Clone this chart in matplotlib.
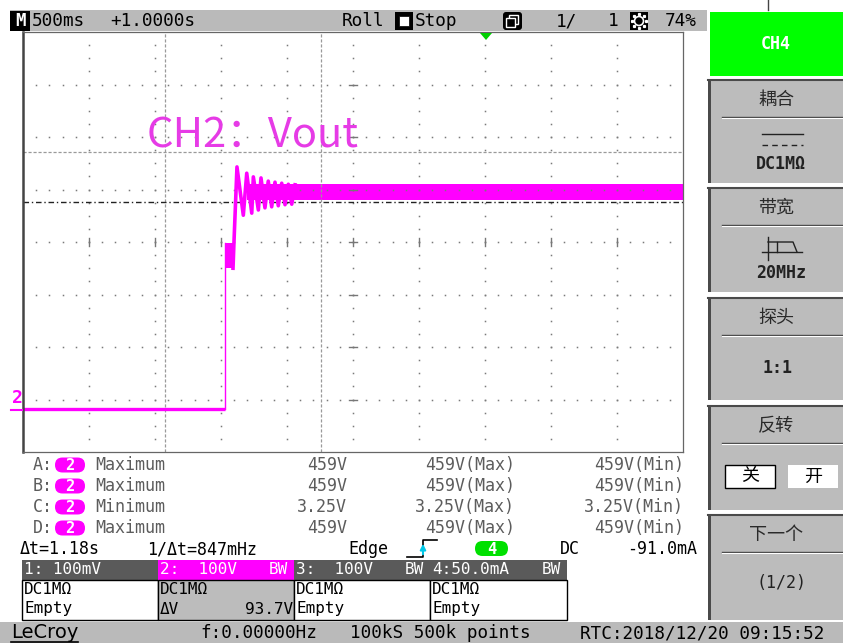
import numpy as np
import matplotlib.pyplot as plt
from matplotlib.patches import Rectangle, FancyBboxPatch, Polygon, Circle

# ---- CH2 trace: time in s (500 ms/div, 10 div), voltage in V (100 V/div, ground on div -3)
base_t = [0.0, 1.530]
base_v = [-18, -18]
step_t = [1.530, 1.530]
step_v = [-18, 298]
burst_t = [1.530, 1.591]
burst_hi = [298, 298]
burst_lo = [250, 250]
ring_t = [1.591, 1.598, 1.621, 1.669, 1.695, 1.733, 1.745, 1.783, 1.803, 1.833,
          1.858, 1.884, 1.909, 1.934, 1.960, 1.985, 2.010, 2.036, 2.061]
ring_v = [250, 298, 443, 351, 431, 355, 424, 361, 422, 365,
          416, 367, 414, 369, 412, 371, 410, 372, 409]
band_t = [1.70, 5.0]
band_hi = [410, 410]
band_lo = [380, 380]

# cursors
cur_t = [1.076, 2.256]
cur_v = [471, 377]

# ---- measurement / status text
meas_id = ['A:', 'B:', 'C:', 'D:']
meas_kind = ['Maximum', 'Maximum', 'Minimum', 'Maximum']
meas_val = ['459V', '459V', '3.25V', '459V']
meas_max = ['459V(Max)', '459V(Max)', '3.25V(Max)', '459V(Max)']
meas_min = ['459V(Min)', '459V(Min)', '3.25V(Min)', '459V(Min)']

ch_head = ['1: 100mV', '2:  100V', '3:  100V', '4:50.0mA']
ch_bw = ['', 'BW', 'BW', 'BW']
ch_row1 = ['DC1MΩ', 'DC1MΩ', 'DC1MΩ', 'DC1MΩ']
ch_row2 = ['Empty', 'ΔV', 'Empty', 'Empty']

menu_titles = ['耦合', '带宽', '探头', '反转', '下一个']

MAG = '#ff00ff'
GRAY = '#bcbcbc'
MONO = 'DejaVu Sans Mono'
CJK = ['Noto Sans CJK SC', 'DejaVu Sans']

fig = plt.figure(figsize=(8.43, 6.43), dpi=100)
fig.patch.set_facecolor('white')

bg = fig.add_axes([0, 0, 1, 1])
bg.set_xlim(0, 843)
bg.set_ylim(643, 0)
bg.axis('off')

# status bar
bg.add_patch(Rectangle((10, 10), 697, 21, color='#bababa', lw=0))
bg.add_patch(Rectangle((10, 11), 20, 20, color='black', lw=0))
bg.text(20, 21.5, 'M', color='white', fontsize=12.5, family=MONO, weight='bold', ha='center', va='center')
sb = dict(fontsize=12.8, family=MONO, va='center', color='black')
bg.text(32, 21, '500ms', **sb)
bg.text(110, 21, '+1.0000s', **sb)
bg.text(342, 21, 'Roll', **sb)
bg.add_patch(Rectangle((395, 12), 18, 18, color='black', lw=0))
bg.add_patch(Rectangle((399, 16), 10, 10, facecolor='white', edgecolor='black', lw=0.5))
bg.text(415, 21, 'Stop', **sb)
bg.add_patch(FancyBboxPatch((503, 12), 19, 18, boxstyle='round,pad=0,rounding_size=3', color='black', lw=0))
bg.add_patch(Rectangle((509, 15), 9, 9, facecolor='none', edgecolor='white', lw=1))
bg.add_patch(Rectangle((506, 18), 9, 9, facecolor='black', edgecolor='white', lw=1))
bg.text(556, 21, '1/', **sb)
bg.text(618, 21, '1', ha='right', fontsize=12.8, family=MONO, va='center')
bg.add_patch(Rectangle((630, 12), 18, 18, color='black', lw=0))
bg.add_patch(Circle((639, 21), 4.5, facecolor='none', edgecolor='white', lw=1.2))
for a in np.arange(8) * np.pi / 4:
    bg.plot(639 + 7 * np.cos(a), 21 + 7 * np.sin(a), 's', ms=1.3, color='white')
bg.text(665, 21, '74%', **sb)
bg.plot([768, 768], [0, 10], color='#444444', lw=1)

# measurement rows
mk = dict(fontsize=12, family=MONO, va='center', color='#5c5c5c')
for i in range(4):
    y = 465 + i * 21
    bg.text(33, y, meas_id[i], **mk)
    bg.add_patch(FancyBboxPatch((55, y - 7.5), 30, 15, boxstyle='round,pad=0,rounding_size=7.5',
                                color=MAG, lw=0))
    bg.text(70, y + 0.5, '2', color='white', fontsize=11, family=MONO, weight='bold', ha='center', va='center')
    bg.text(95, y, meas_kind[i], **mk)
    bg.text(347, y, meas_val[i], ha='right', **mk)
    bg.text(515, y, meas_max[i], ha='right', **mk)
    bg.text(684, y, meas_min[i], ha='right', **mk)

dk = dict(fontsize=12, family=MONO, va='center', color='black')
bg.text(20, 549, 'Δt=1.18s', **dk)
bg.text(147, 549, '1/Δt=847mHz', **dk)
bg.text(348, 549, 'Edge', **dk)
bg.plot([407, 423, 423, 437], [557, 557, 540, 540], color='black', lw=1.2)
bg.annotate('', xy=(423, 541), xytext=(423, 557),
            arrowprops=dict(arrowstyle='-|>', color='#00c8e8', lw=1.5, mutation_scale=8))
bg.add_patch(FancyBboxPatch((475, 541), 33, 15, boxstyle='round,pad=0,rounding_size=7.5',
                            color='#00e000', lw=0))
bg.text(491.5, 549, '4', color='white', fontsize=11, family=MONO, weight='bold', ha='center', va='center')
bg.text(560, 549, 'DC', **dk)
bg.text(697, 549, '-91.0mA', ha='right', **dk)

# channel table
cells = [22, 158, 294, 430, 567]
tk = dict(fontsize=11.5, family=MONO, va='center')
for i in range(4):
    x0, x1 = cells[i], cells[i + 1]
    bg.add_patch(Rectangle((x0, 560), x1 - x0, 20, color=MAG if i == 1 else '#5a5a5a', lw=0))
    bg.add_patch(Rectangle((x0, 580), x1 - x0, 40, facecolor=GRAY if i == 1 else 'white',
                           edgecolor='black', lw=1))
    bg.text(x0 + 2, 570, ch_head[i], color='white', **tk)
    bg.text(x1 - 6, 570, ch_bw[i], color='white', ha='right', **tk)
    bg.text(x0 + 2, 590, ch_row1[i], color='black', **tk)
    bg.text(x0 + 2, 609, ch_row2[i], color='black', **tk)
bg.text(cells[2] - 1, 609, '93.7V', color='black', ha='right', **tk)

# bottom bar
bg.add_patch(Rectangle((0, 622), 843, 21, color='#bababa', lw=0))
bg.text(11, 633, 'LeCroy', fontsize=14, family='DejaVu Sans', va='center', color='black')
bg.plot([11, 78], [642, 642], color='black', lw=1.2)
bk = dict(fontsize=12.7, family=MONO, va='center', color='black')
bg.text(200, 633, 'f:0.00000Hz', **bk)
bg.text(350, 633, '100kS 500k points', **bk)
bg.text(580, 633, 'RTC:2018/12/20 09:15:52', **bk)

# right softkey menu
bg.add_patch(Rectangle((710, 12), 133, 64, color='#00ff00', lw=0))
bg.text(776, 44, 'CH4', color='white', fontsize=12, family=MONO, weight='bold', ha='center', va='center')
panels = [(79, 183), (187, 292), (297, 400), (405, 510), (514, 620)]
for (t0, t1), title in zip(panels, menu_titles):
    bg.add_patch(Rectangle((710, t0), 133, t1 - t0, color=GRAY, lw=0))
    bg.add_patch(Rectangle((708, t0), 3, t1 - t0, color='#4a4a4a', lw=0))
    bg.plot([708, 843], [t0 + 1, t0 + 1], color='#4a4a4a', lw=1.5)
    bg.plot([722, 843], [t0 + 38, t0 + 38], color='#444444', lw=1)
    bg.plot([722, 843], [t0 + 39.3, t0 + 39.3], color='white', lw=0.8)
    bg.text(776, t0 + 21, title, fontsize=13, family=CJK, ha='center', va='center', color='#2a2a2a')

pb = dict(fontsize=12, family=MONO, weight='bold', ha='center', va='center', color='#222222')
bg.plot([762, 803], [134, 134], color='#222222', lw=1)
bg.plot([762, 803], [145, 145], color='#222222', lw=1, linestyle=(0, (4, 3)))
bg.text(781, 164, 'DC1MΩ', **pb)
bg.plot([762, 802], [252, 252], color='#222222', lw=1)
bg.plot([768, 768], [237, 260], color='#222222', lw=1)
bg.plot([768, 793, 797], [242, 242, 252], color='#222222', lw=1)
bg.plot([777, 777], [242, 252], color='#222222', lw=1)
bg.text(781, 273, '20MHz', **pb)
bg.text(778, 368, '1:1', **pb)
bg.add_patch(Rectangle((725, 465), 50, 23, facecolor='white', edgecolor='black', lw=1))
bg.add_patch(Rectangle((788, 465), 50, 23, facecolor='white', edgecolor='none'))
bg.text(750, 476.5, '关', fontsize=13, family=CJK, ha='center', va='center', color='black')
bg.text(813, 476.5, '开', fontsize=13, family=CJK, ha='center', va='center', color='black')
bg.text(781, 583, '(1/2)', fontsize=12, family=MONO, ha='center', va='center', color='#222222')

# ---- graticule
ax = fig.add_axes([23 / 843, 1 - 452 / 643, 660 / 843, 420 / 643], zorder=2)
ax.set_xlim(0, 5)
ax.set_ylim(-100, 700)
ax.set_xticks([])
ax.set_yticks([])
for s in ax.spines.values():
    s.set_color('#666666')
    s.set_linewidth(0.9)
ax.spines['left'].set_color('#444444')
ax.spines['left'].set_linewidth(1.8)

dot = dict(ls='none', marker='s', ms=1.1, color='#7a7a7a', mew=0)
for tx in np.arange(0.5, 5.0, 0.5):
    vv = np.arange(-75, 700, 25)
    ax.plot(np.full_like(vv, tx, dtype=float), vv, **dot)
for vy in np.arange(0, 700, 100):
    tt = np.arange(0.1, 5.0, 0.1)
    ax.plot(tt, np.full_like(tt, vy, dtype=float), **dot)
# center axis tick marks
for tx in np.arange(0.5, 5.0, 0.5):
    ax.plot([tx, tx], [292, 308], color='#777777', lw=1)
for vy in np.arange(0, 700, 100):
    ax.plot([2.47, 2.53], [vy, vy], color='#777777', lw=1)

# cursors
for ct in cur_t:
    ax.axvline(ct, color='#9a9a9a', lw=0.9, linestyle=(0, (2.5, 1.5)))
ax.axhline(cur_v[0], color='#9a9a9a', lw=0.9, linestyle=(0, (2.5, 1.5)))
ax.axhline(cur_v[1], color='#222222', lw=1, linestyle=(0, (4, 2, 1, 2)))

# trace
ax.plot(base_t, base_v, color=MAG, lw=2.4, solid_capstyle='butt')
ax.plot(step_t, step_v, color=MAG, lw=1)
ax.fill_between(burst_t, burst_lo, burst_hi, color=MAG, lw=0)
ax.fill_between(band_t, band_lo, band_hi, color=MAG, lw=0)
ax.plot(ring_t, ring_v, color=MAG, lw=2.6)

# ---- overlay
ov = fig.add_axes([0, 0, 1, 1], zorder=3)
ov.set_xlim(0, 843)
ov.set_ylim(643, 0)
ov.axis('off')
ov.patch.set_alpha(0)
ov.add_patch(Polygon([[480, 33], [492, 33], [486, 40]], closed=True, color='#00d000', lw=0))
ov.text(17, 398, '2', color=MAG, fontsize=13, family=MONO, weight='bold', ha='center', va='center')
ov.plot([11, 22], [410, 410], color=MAG, lw=1.5)
ov.text(147, 148, 'CH2：Vout', color='#e63be6', fontsize=30, family=CJK, va='baseline')

fig.savefig('out.png', dpi=100)
